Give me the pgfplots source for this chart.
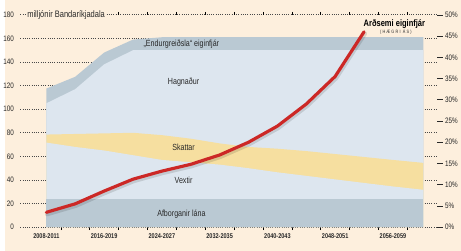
\documentclass[border=0pt]{standalone}
\usepackage{fontspec}
\setmainfont{Liberation Sans}[FakeStretch=0.8]
\usepackage{pgfplots}
\pgfplotsset{compat=1.18}
\definecolor{cream}{RGB}{253,239,221}
\definecolor{lightblue}{RGB}{221,230,239}
\definecolor{darkband}{RGB}{186,201,211}
\definecolor{ybar}{RGB}{246,223,160}
\definecolor{redline}{RGB}{204,40,38}
\definecolor{txt}{RGB}{40,40,40}
\begin{document}
\begin{tikzpicture}
\fill[cream] (-15pt,-24pt) rectangle (446pt,230pt);
\begin{axis}[at={(0,0)}, anchor=south west, scale only axis,
  width=422pt, height=215pt,
  xmin=2006.39, xmax=2064.12, ymin=0, ymax=180,
  axis line style={draw=none}, clip=false,
  ytick={0,20,...,180}, ymajorgrids,
  grid style={txt!85, line width=0.8pt, dash pattern=on 0.8pt off 1.5pt},
  ytick style={draw=none},
  yticklabel style={font=\fontsize{8}{9}\selectfont, text=txt},
  /pgf/number format/assume math mode=true,
  xtick={2012,2016,...,2060}, xticklabels={},
  extra x ticks={2010,2018,2026,2034,2042,2050,2058},
  extra x tick labels={2008-2011,2016-2019,2024-2027,2032-2035,2040-2043,2048-2051,2056-2059},
  extra x tick style={major tick length=0pt, xmajorgrids=false,
     xticklabel style={font=\bfseries\fontsize{7}{8}\selectfont, text=txt, yshift=-3pt}},
  x tick style={black, line width=0.6pt},
  major tick length=3pt, tick align=outside,
]
% Endurgreidsla band top
\addplot[draw=none, fill=darkband] coordinates {(2010,117.5) (2014,127.5) (2018,148) (2022,159) (2026,161) (2062.2,161)} \closedcycle;
% Hagnadur (below band)
\addplot[draw=none, fill=lightblue] coordinates {(2010,105) (2014,117) (2018,138) (2022,150) (2062.2,150)} \closedcycle;
% Skattar top
\addplot[draw=none, fill=ybar] coordinates {(2010,78.5) (2014,79) (2018,79.5) (2022,80) (2026,78) (2030,75) (2034,71) (2038,68) (2042,66.5) (2046,64.5) (2050,62) (2054,59.5) (2058,57) (2062.2,54.5)} \closedcycle;
% Vextir (below Skattar)
\addplot[draw=none, fill=lightblue] coordinates {(2010,71.7) (2014,68) (2018,65) (2022,61) (2026,57) (2030,55) (2034,53) (2038,50) (2042,46.5) (2046,43.5) (2050,40.5) (2054,37.5) (2058,34.5) (2062.2,31.7)} \closedcycle;
% Afborganir lana
\addplot[draw=none, fill=darkband] coordinates {(2010,24) (2062.2,24)} \closedcycle;
\node[fill=cream, inner sep=1pt, anchor=west, font=\fontsize{9.5}{10}\selectfont, text=txt] at (axis cs:2007.2,180) {milljónir Bandaríkjadala};
\node[font=\fontsize{9}{10}\selectfont, text=txt] at (axis cs:2028.7,155) {„Endurgreiðsla“ eiginfjár};
\node[font=\fontsize{9}{10}\selectfont, text=txt] at (axis cs:2029,123) {Hagnaður};
\node[font=\fontsize{9}{10}\selectfont, text=txt] at (axis cs:2029,67.5) {Skattar};
\node[font=\fontsize{9}{10}\selectfont, text=txt] at (axis cs:2029,40) {Vextir};
\node[font=\fontsize{9}{10}\selectfont, text=txt] at (axis cs:2028.7,11) {Afborganir lána};
\node[font=\bfseries\fontsize{9.5}{10}\selectfont, text=black] at (axis cs:2058.2,172.5) {Arðsemi eiginfjár};
\node[font=\fontsize{4.8}{5}\selectfont\addfontfeatures{LetterSpace=25}, text=txt] at (axis cs:2058.4,165.5) {(HÆGRI ÁS)};
\end{axis}
\begin{axis}[at={(0,0)}, anchor=south west, scale only axis,
  width=422pt, height=215pt,
  xmin=2006.39, xmax=2064.12, ymin=0, ymax=50,
  hide x axis, axis y line*=right,
  axis line style={draw=none}, clip=false,
  ytick={0,5,...,50},
  yticklabel={\pgfmathprintnumber{\tick}\%},
  yticklabel style={font=\fontsize{8}{9}\selectfont, text=txt, xshift=-1pt},
  /pgf/number format/assume math mode=true,
  y tick style={txt, line width=0.6pt},
  major tick length=5.5pt, tick align=outside,
]
\addplot[black, opacity=0.12, line width=4.5pt, line cap=round, line join=round, yshift=-1.8pt, xshift=0.8pt] coordinates {(2010,3.5) (2014,5.5) (2018,8.5) (2022,11.3) (2026,13.2) (2030,14.8) (2034,17) (2038,20) (2042,23.8) (2046,29) (2050,35.5) (2054,46)};
\addplot[redline, line width=3.2pt, line cap=round, line join=round] coordinates {(2010,3.5) (2014,5.5) (2018,8.5) (2022,11.3) (2026,13.2) (2030,14.8) (2034,17) (2038,20) (2042,23.8) (2046,29) (2050,35.5) (2054,46)};
\end{axis}
\end{tikzpicture}
\end{document}
